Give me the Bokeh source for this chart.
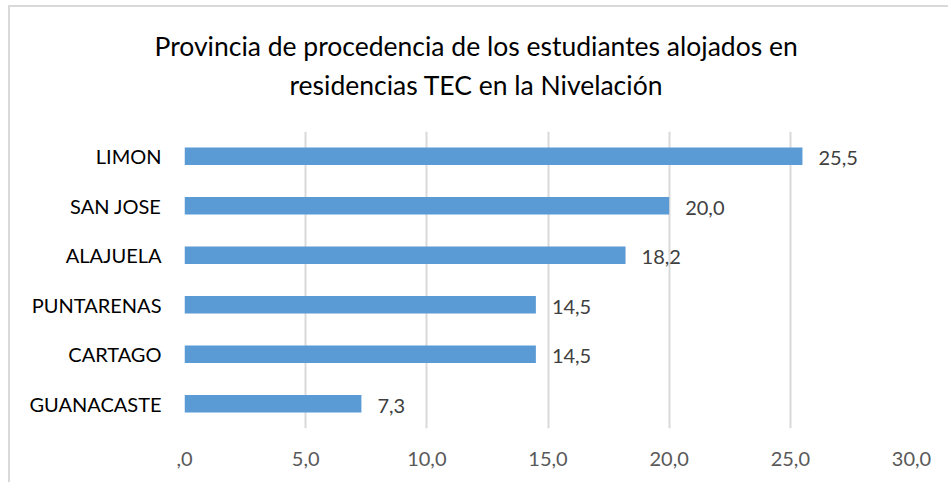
from bokeh.plotting import figure
from bokeh.models import ColumnDataSource, FixedTicker, Title, FactorRange, Range1d
from bokeh.embed import file_html
from bokeh.resources import INLINE
from bokeh.core.properties import value

categories = ["LIMON", "SAN JOSE", "ALAJUELA", "PUNTARENAS", "CARTAGO", "GUANACASTE"]
values = [25.5, 20.0, 18.2, 14.5, 14.5, 7.3]
x_ticks = [0, 5, 10, 15, 20, 25, 30]
x_tick_labels = [",0", "5,0", "10,0", "15,0", "20,0", "25,0", "30,0"]
title_lines = ["Provincia de procedencia de los estudiantes alojados en",
               "residencias TEC en la Nivelación"]

FONT = "Lato"

labels = [f"{v:.1f}".replace(".", ",") for v in values]
src = ColumnDataSource(dict(cat=categories, val=values, lab=labels))

p = figure(width=940, height=477, output_backend="svg", toolbar_location=None,
           y_range=FactorRange(factors=list(reversed(categories))),
           x_range=Range1d(0, 30), title=None,
           min_border_left=174, min_border_right=39, min_border_top=124,
           min_border_bottom=56)

# spacer between title and plot area
p.add_layout(Title(text=" ", align="center", text_font=FONT,
                   text_font_size="16px", standoff=7), "above")
p.add_layout(Title(text=title_lines[1], align="left", text_font=FONT,
                   text_font_size="26.5px", text_font_style="normal",
                   text_color="#000000", standoff=5, offset=105), "above")
p.add_layout(Title(text=title_lines[0], align="left", text_font=FONT,
                   text_font_size="26.5px", text_font_style="normal",
                   text_color="#000000", standoff=5, offset=-30), "above")

p.hbar(y="cat", right="val", left=0, height=0.35, source=src,
       fill_color="#5b9bd5", line_color=None)
p.text(x="val", y="cat", text="lab", source=src, x_offset=16, y_offset=2,
       text_align="left", text_baseline="middle", text_font=value(FONT),
       text_font_size="20px", text_color="#404040")

p.xaxis.ticker = FixedTicker(ticks=x_ticks)
p.xaxis.major_label_overrides = {t: l for t, l in zip(x_ticks, x_tick_labels)}
for ax in (p.xaxis, p.yaxis):
    ax.axis_line_color = None
    ax.major_tick_line_color = None
    ax.minor_tick_line_color = None
    ax.major_label_text_font = FONT
    ax.major_label_text_font_size = "20px"
p.xaxis.major_label_text_color = "#595959"
p.yaxis.major_label_text_color = "#000000"
p.xaxis.major_label_standoff = 17
p.yaxis.major_label_standoff = 17

p.xgrid.grid_line_color = "#d9d9d9"
p.xgrid.grid_line_width = 2
p.ygrid.grid_line_color = None
p.outline_line_color = None
p.background_fill_color = "white"
p.border_fill_color = "white"
p.styles = {"margin-left": "8px", "margin-top": "5px",
            "border-left": "2px solid #d9d9d9", "border-top": "2px solid #d9d9d9"}

open("out.html", "w").write(file_html(p, INLINE))
